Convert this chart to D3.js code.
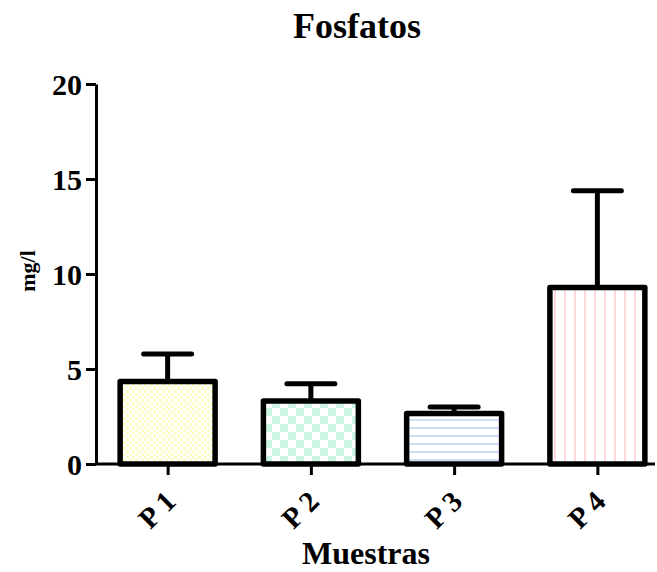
<!DOCTYPE html>
<html>
<head>
<meta charset="utf-8">
<script src="https://cdn.jsdelivr.net/npm/d3@7"></script>
<style>
  html, body { margin: 0; padding: 0; background: #fff; }
  svg { display: block; }
  text { font-family: "Liberation Serif", "Times New Roman", serif; font-weight: bold; fill: #000; }
</style>
</head>
<body>
<svg id="chart" width="657" height="572"></svg>
<script>
const categories = ["P1", "P2", "P3", "P4"];
const means = [4.34, 3.32, 2.66, 9.29];
const errors = [1.45, 0.91, 0.34, 5.09];
const yTicks = [0, 5, 10, 15, 20];
const title = "Fosfatos";
const xTitle = "Muestras";
const yTitle = "mg/l";

const svg = d3.select("#chart");
const defs = svg.append("defs");

// Patterns
const p1 = defs.append("pattern").attr("id", "pat0").attr("patternUnits", "userSpaceOnUse").attr("width", 6).attr("height", 6);
p1.append("rect").attr("width", 6).attr("height", 6).attr("fill", "#ffffff");
p1.append("rect").attr("width", 3).attr("height", 3).attr("fill", "#fcfcc9");
p1.append("rect").attr("x", 3).attr("y", 3).attr("width", 3).attr("height", 3).attr("fill", "#fcfcc9");

const p2 = defs.append("pattern").attr("id", "pat1").attr("patternUnits", "userSpaceOnUse").attr("width", 16).attr("height", 16);
p2.append("rect").attr("width", 16).attr("height", 16).attr("fill", "#ffffff");
p2.append("rect").attr("width", 8).attr("height", 8).attr("fill", "#ccf5e3");
p2.append("rect").attr("x", 8).attr("y", 8).attr("width", 8).attr("height", 8).attr("fill", "#ccf5e3");

const p3 = defs.append("pattern").attr("id", "pat2").attr("patternUnits", "userSpaceOnUse").attr("width", 8).attr("height", 8);
p3.append("rect").attr("width", 8).attr("height", 8).attr("fill", "#ffffff");
p3.append("rect").attr("y", 3).attr("width", 8).attr("height", 2).attr("fill", "#cddff7");

const p4 = defs.append("pattern").attr("id", "pat3").attr("patternUnits", "userSpaceOnUse").attr("width", 10).attr("height", 10);
p4.append("rect").attr("width", 10).attr("height", 10).attr("fill", "#ffffff");
p4.append("rect").attr("x", 4).attr("width", 2).attr("height", 10).attr("fill", "#ffd9d9");

const x = d3.scalePoint().domain(categories).range([96, 669]).padding(0.5);
const y = d3.scaleLinear().domain([0, 20]).range([464, 84]);
const barW = x.step() * 0.663;

const data = categories.map((c, i) => ({ c, v: means[i], e: errors[i], i }));

// Error bars (drawn first, bars cover lower part)
const eg = svg.append("g");
eg.selectAll("line.stem").data(data).join("line")
  .attr("x1", d => x(d.c)).attr("x2", d => x(d.c))
  .attr("y1", d => y(d.v)).attr("y2", d => y(d.v + d.e))
  .attr("stroke", "#000").attr("stroke-width", 5);
eg.selectAll("line.cap").data(data).join("line")
  .attr("x1", d => x(d.c) - 24).attr("x2", d => x(d.c) + 24)
  .attr("y1", d => y(d.v + d.e)).attr("y2", d => y(d.v + d.e))
  .attr("stroke", "#000").attr("stroke-width", 5).attr("stroke-linecap", "round");

// Bars
svg.append("g").selectAll("rect").data(data).join("rect")
  .attr("x", d => x(d.c) - barW / 2)
  .attr("y", d => y(d.v))
  .attr("width", barW)
  .attr("height", d => y(0) - y(d.v))
  .attr("fill", d => `url(#pat${d.i})`)
  .attr("stroke", "#000").attr("stroke-width", 5.5).attr("stroke-linejoin", "round");

// Y axis
const yAxis = svg.append("g").attr("transform", "translate(96,0)")
  .call(d3.axisLeft(y).tickValues(yTicks).tickSize(10).tickPadding(4).tickSizeOuter(0));
yAxis.select(".domain").attr("stroke-width", 3);
yAxis.selectAll(".tick line").attr("stroke-width", 3);
yAxis.selectAll(".tick text").style("font-size", "30px").attr("dy", "0.34em")
  .style("font-family", "'Liberation Serif', serif").style("font-weight", "bold");

// X axis
const xAxis = svg.append("g").attr("transform", "translate(0,464)")
  .call(d3.axisBottom(x).tickSize(11).tickSizeOuter(0).tickFormat(""));
xAxis.select(".domain").attr("d", "M96,0H655").attr("stroke-width", 3);
xAxis.selectAll(".tick line").attr("stroke-width", 3);

// X tick labels rotated
svg.append("g").selectAll("text").data(categories).join("text")
  .attr("transform", d => `translate(${x(d) + 14},499) rotate(-45)`)
  .attr("text-anchor", "end")
  .style("font-size", "29px")
  .style("letter-spacing", "6px")
  .text(d => d);

// Titles
svg.append("text").attr("x", 357).attr("y", 38).attr("text-anchor", "middle")
  .style("font-size", "36px").text(title);
svg.append("text").attr("x", 366).attr("y", 564).attr("text-anchor", "middle")
  .style("font-size", "32px").text(xTitle);
svg.append("text").attr("transform", "translate(35,271) rotate(-90)").attr("text-anchor", "middle")
  .style("font-size", "22px").text(yTitle);
</script>
</body>
</html>
